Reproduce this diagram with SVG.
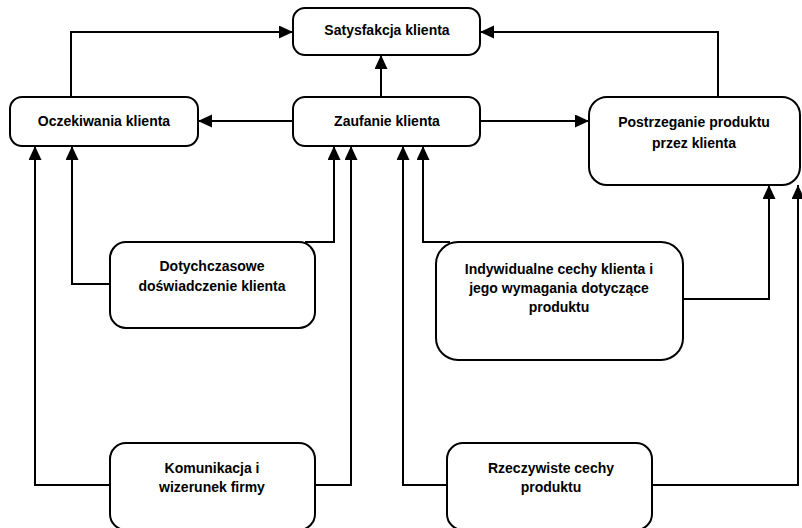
<svg xmlns="http://www.w3.org/2000/svg" width="802" height="528" viewBox="0 0 802 528">
<style>
.box{fill:#fff;stroke:#000;stroke-width:2}
.t{font-family:"Liberation Sans",Arial,sans-serif;font-weight:bold;font-size:14px;text-anchor:middle;fill:#000}
.c{fill:none;stroke:#000;stroke-width:2;marker-end:url(#ah)}
</style>
<defs>
<marker id="ah" markerUnits="userSpaceOnUse" markerWidth="16" markerHeight="14" refX="14" refY="6.5" orient="auto">
<path d="M0,0 L14,6.5 L0,13 Z" fill="#000"/>
</marker>
</defs>
<rect width="802" height="528" fill="#fff"/>
<g id="connectors">
<path class="c" d="M71,97 V32 H293"/>
<path class="c" d="M718,97 V32 H480"/>
<path class="c" d="M381,97 V55"/>
<path class="c" d="M293,121 H198"/>
<path class="c" d="M480,121 H589"/>
<path class="c" d="M110,284 H72 V146"/>
<path class="c" d="M305,242 H334 V146"/>
<path class="c" d="M110,485 H35 V146"/>
<path class="c" d="M315,485 H351 V146"/>
<path class="c" d="M447,485 H403 V146"/>
<path class="c" d="M450,242 H423 V146"/>
<path class="c" d="M683,299 H769 V185"/>
<path class="c" d="M652,485 H798 V185"/>
</g>
<g id="satysfakcja">
<rect class="box" x="293" y="8" width="187" height="47" rx="12"/>
<text class="t" x="387" y="35">Satysfakcja klienta</text>
</g>
<g id="oczekiwania">
<rect class="box" x="10" y="97" width="188" height="49" rx="12"/>
<text class="t" x="104" y="126">Oczekiwania klienta</text>
</g>
<g id="zaufanie">
<rect class="box" x="293" y="97" width="187" height="49" rx="12"/>
<text class="t" x="387" y="126">Zaufanie klienta</text>
</g>
<g id="postrzeganie">
<rect class="box" x="589" y="97" width="211" height="88" rx="18"/>
<text class="t" x="694" y="127">Postrzeganie produktu</text>
<text class="t" x="694" y="148">przez klienta</text>
</g>
<g id="dotychczasowe">
<rect class="box" x="110" y="242" width="205" height="86" rx="16"/>
<text class="t" x="212" y="271">Dotychczasowe</text>
<text class="t" x="212" y="291">doświadczenie klienta</text>
</g>
<g id="indywidualne">
<rect class="box" x="436" y="242" width="247" height="118" rx="22"/>
<text class="t" x="559" y="274">Indywidualne cechy klienta i</text>
<text class="t" x="559" y="293">jego wymagania dotyczące</text>
<text class="t" x="559" y="312">produktu</text>
</g>
<g id="komunikacja">
<rect class="box" x="110" y="443" width="205" height="87" rx="16"/>
<text class="t" x="212" y="473">Komunikacja i</text>
<text class="t" x="212" y="492">wizerunek firmy</text>
</g>
<g id="rzeczywiste">
<rect class="box" x="447" y="443" width="205" height="87" rx="16"/>
<text class="t" x="551" y="473">Rzeczywiste cechy</text>
<text class="t" x="551" y="492">produktu</text>
</g>
</svg>
